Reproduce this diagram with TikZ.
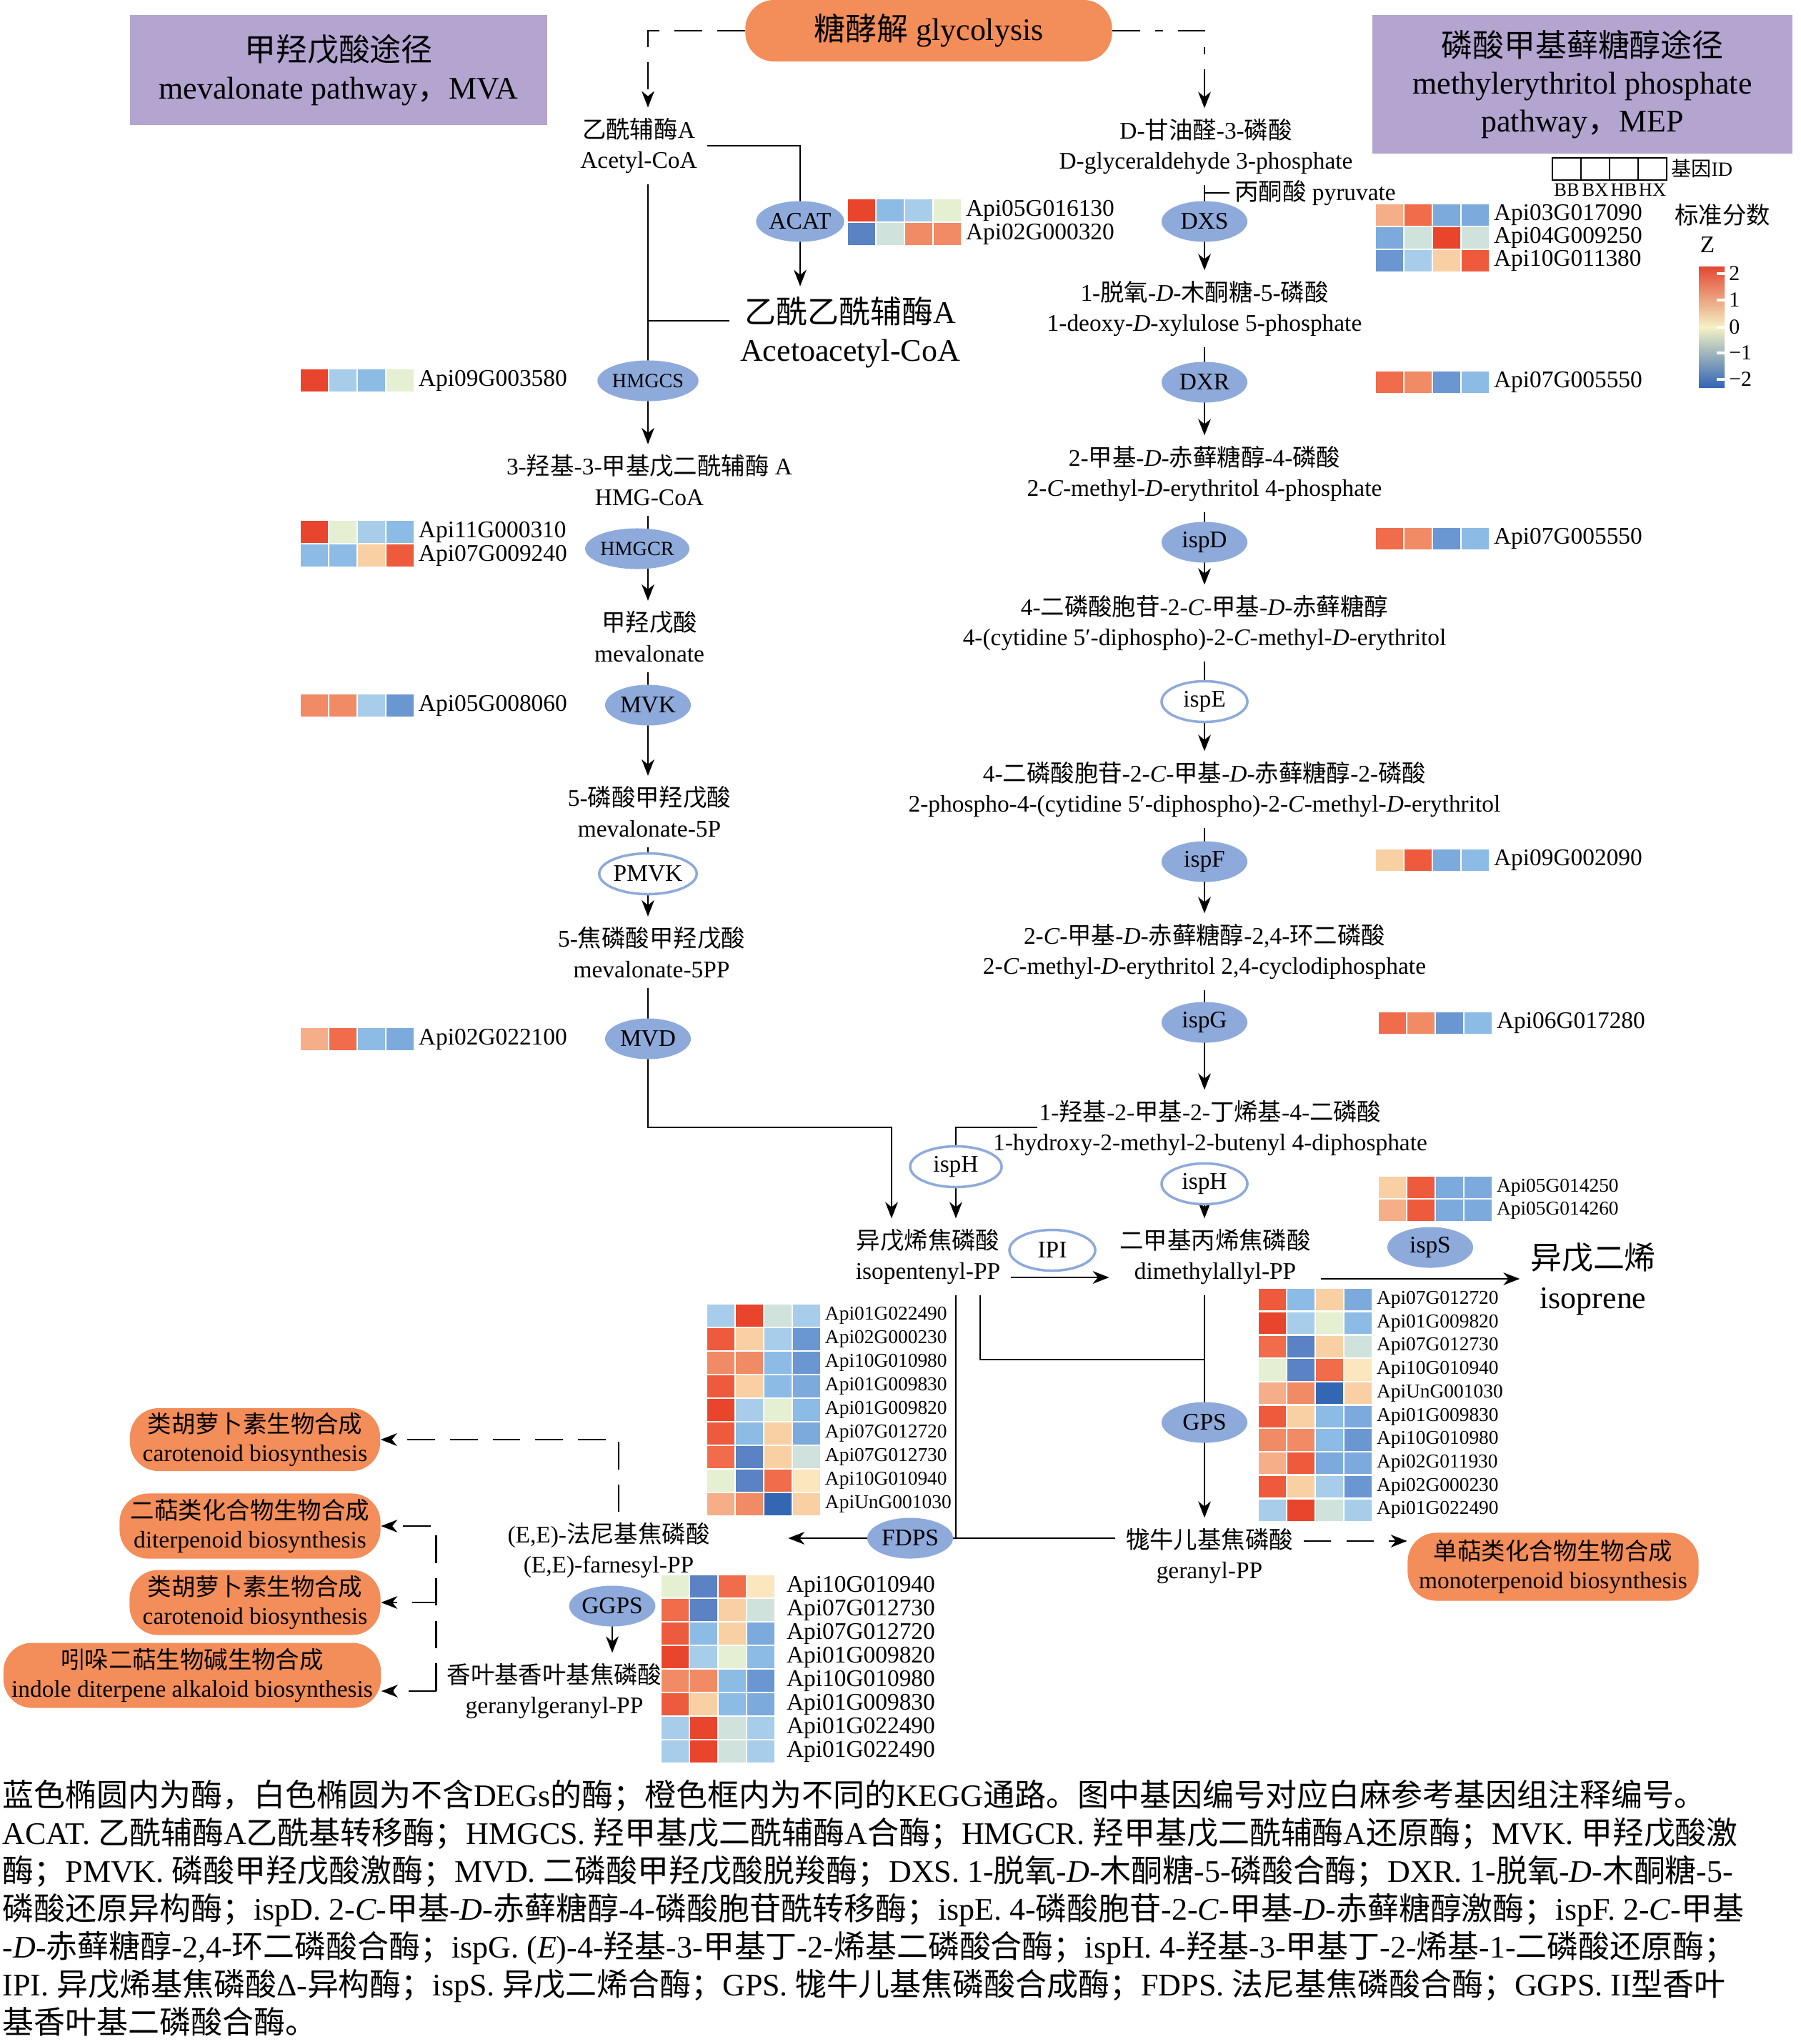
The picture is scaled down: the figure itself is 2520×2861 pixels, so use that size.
\documentclass[tikz,border=0pt]{standalone}
\usepackage{fontspec}
\setmainfont{Liberation Serif}
\newfontfamily\cjkf{Noto Sans CJK SC}
\newcommand\z[1]{{\cjkf #1}}
\usetikzlibrary{arrows.meta,shapes.geometric,calc}
\pgfdeclarelayer{bg}
\pgfsetlayers{bg,main}
\definecolor{enzblue}{HTML}{8EAADB}
\definecolor{kegg}{HTML}{F38D59}
\definecolor{pwpurple}{HTML}{B4A4D0}
\definecolor{hR}{HTML}{E8452C}
\definecolor{hR2}{HTML}{EE5B3C}
\definecolor{hR3}{HTML}{F06C4B}
\definecolor{hS}{HTML}{F18B66}
\definecolor{hS2}{HTML}{F5AE87}
\definecolor{hP}{HTML}{F9D0A3}
\definecolor{hY}{HTML}{FBE6BD}
\definecolor{hG}{HTML}{E5EFD2}
\definecolor{hGG}{HTML}{D0E2DC}
\definecolor{hLB}{HTML}{A8CDEA}
\definecolor{hB1}{HTML}{8CBBE6}
\definecolor{hB2}{HTML}{7DAADD}
\definecolor{hB25}{HTML}{6A97D2}
\definecolor{hB3}{HTML}{5A82C4}
\definecolor{hB4}{HTML}{3366B3}
\definecolor{zTop}{HTML}{E34A33}
\definecolor{zSal}{HTML}{F4A582}
\definecolor{zMid}{HTML}{F4F1C4}
\definecolor{zLB}{HTML}{92C5DE}
\definecolor{zBot}{HTML}{3366B3}
\tikzset{
 ln/.style={line width=0.8pt},
 arr/.style={line width=0.8pt,-{Stealth[length=6.5pt,width=5pt,inset=2pt]}},
 dl/.style={line width=0.8pt,dash pattern=on 11pt off 6pt},
 dlarr/.style={dl,-{Stealth[length=6.5pt,width=5pt,inset=2pt]}},
 ddarr/.style={line width=0.8pt,dash pattern=on 11pt off 6pt on 3pt off 6pt,-{Stealth[length=6.5pt,width=5pt,inset=2pt]}},
 met/.style={align=center,font=\fontsize{9.5}{12}\selectfont,inner sep=4pt},
 big/.style={align=center,font=\fontsize{12.5}{15}\selectfont,inner sep=4pt},
 enz/.style={ellipse,fill=enzblue,minimum width=1.2cm,minimum height=0.57cm,inner sep=0pt,font=\fontsize{9.5}{11}\selectfont},
 enzs/.style={enz,font=\fontsize{8}{9}\selectfont},
 enzw/.style={enz,fill=white,draw=enzblue,line width=1pt},
 keggbox/.style={fill=kegg,rounded corners=0.4cm,align=center,font=\fontsize{9.5}{11.5}\selectfont,inner sep=0pt},
 pwbox/.style={fill=pwpurple,align=center,font=\fontsize{12.5}{15}\selectfont,inner sep=0pt},
 cell/.style={draw=white,line width=0.7pt},
 gl/.style={anchor=west,font=\fontsize{9.5}{11}\selectfont,inner sep=1.5pt},
 glw/.style={gl,xshift=0.1cm},
 gls/.style={anchor=west,font=\fontsize{7.8}{9}\selectfont,inner sep=1.5pt},
}
\newcommand\hmap[6]{%
 \foreach \ca/\cb/\cc/\cd/\hlab [count=\hr from 0] in {#6} {%
   \filldraw[cell,fill=\ca] ({#2},{#3+\hr*#4}) rectangle ++(40,#4);
   \filldraw[cell,fill=\cb] ({#2+40},{#3+\hr*#4}) rectangle ++(40,#4);
   \filldraw[cell,fill=\cc] ({#2+80},{#3+\hr*#4}) rectangle ++(40,#4);
   \filldraw[cell,fill=\cd] ({#2+120},{#3+\hr*#4}) rectangle ++(40,#4);
   \node[#5] (#1-\hr) at ({#2+160},{#3+(\hr+0.5)*#4}) {\hlab};
 }}
\begin{document}
\begin{tikzpicture}[x=0.01cm,y=-0.01cm]
\useasboundingbox (0,0) rectangle (2520,2861);
\begin{pgfonlayer}{bg}
\fill[white] (0,0) rectangle (2520,2861);
\end{pgfonlayer}

% pathway boxes
\node[pwbox,minimum width=5.84cm,minimum height=1.53cm] (mva) at (474,98) {\z{甲羟戊酸途径}\\mevalonate pathway\z{，}MVA};
\node[pwbox,minimum width=5.88cm,minimum height=1.93cm] (mepbox) at (2215,118) {\z{磷酸甲基藓糖醇途径}\\methylerythritol phosphate\\pathway\z{，}MEP};
\node[keggbox,minimum width=5.13cm,minimum height=0.86cm,font=\fontsize{12.5}{15}\selectfont] (gly) at (1300,43) {\z{糖酵解} glycolysis};

% MVA metabolites
\node[met] (acoa) at (894,204) {\z{乙酰辅酶}A\\Acetyl-CoA};
\node[big] (aacoa) at (1190,465) {\z{乙酰乙酰辅酶}A\\Acetoacetyl-CoA};
\node[met] (hmgcoa) at (909,672) {3-\z{羟基}-3-\z{甲基戊二酰辅酶} A\\HMG-CoA};
\node[met] (mev) at (909,891) {\z{甲羟戊酸}\\mevalonate};
\node[met] (mev5p) at (909,1136) {5-\z{磷酸甲羟戊酸}\\mevalonate-5P};
\node[met] (mev5pp) at (912,1333) {5-\z{焦磷酸甲羟戊酸}\\mevalonate-5PP};
% MVA enzymes
\node[enz] (acat) at (1120,310) {ACAT};
\node[enzs] (hmgcs) at (907,533) {HMGCS};
\node[enzs] (hmgcr) at (892,768) {HMGCR};
\node[enz] (mvk) at (907,987) {MVK};
\node[enzw] (pmvk) at (907,1223) {PMVK};
\node[enz] (mvd) at (907,1454) {MVD};

% MEP metabolites
\node[met] (g3p) at (1688,205) {D-\z{甘油醛}-3-\z{磷酸}\\D-glyceraldehyde 3-phosphate};
\node[met,inner sep=2pt] (pyr) at (1841,270) {\z{丙酮酸} pyruvate};
\node[met] (dxp) at (1686,432) {1-\z{脱氧}-\textit{D}-\z{木酮糖}-5-\z{磷酸}\\1-deoxy-\textit{D}-xylulose 5-phosphate};
\node[met] (mep) at (1686,663) {2-\z{甲基}-\textit{D}-\z{赤藓糖醇}-4-\z{磷酸}\\2-\textit{C}-methyl-\textit{D}-erythritol 4-phosphate};
\node[met] (cdpme) at (1686,872) {4-\z{二磷酸胞苷}-2-\textit{C}-\z{甲基}-\textit{D}-\z{赤藓糖醇}\\4-(cytidine 5′-diphospho)-2-\textit{C}-methyl-\textit{D}-erythritol};
\node[met] (cdpmep) at (1686,1105) {4-\z{二磷酸胞苷}-2-\textit{C}-\z{甲基}-\textit{D}-\z{赤藓糖醇}-2-\z{磷酸}\\2-phospho-4-(cytidine 5′-diphospho)-2-\textit{C}-methyl-\textit{D}-erythritol};
\node[met] (mecpp) at (1686,1332) {2-\textit{C}-\z{甲基}-\textit{D}-\z{赤藓糖醇}-2,4-\z{环二磷酸}\\2-\textit{C}-methyl-\textit{D}-erythritol 2,4-cyclodiphosphate};
\node[met] (hmbpp) at (1694,1579) {1-\z{羟基}-2-\z{甲基}-2-\z{丁烯基}-4-\z{二磷酸}\\1-hydroxy-2-methyl-2-butenyl 4-diphosphate};
% MEP enzymes
\node[enz] (dxs) at (1686,310) {DXS};
\node[enz] (dxr) at (1686,535) {DXR};
\node[enz] (ispd) at (1686,759) {ispD};
\node[enzw] (ispe) at (1686,982) {ispE};
\node[enz] (ispf) at (1686,1206) {ispF};
\node[enz] (ispg) at (1686,1431) {ispG};
\node[enzw] (isph2) at (1686,1657) {ispH};
\node[enzw,minimum width=1.28cm] (isph1) at (1338,1633) {ispH};

% lower part
\node[met] (ipp) at (1299,1759) {\z{异戊烯焦磷酸}\\isopentenyl-PP};
\node[enzw] (ipi) at (1473,1750) {IPI};
\node[met] (dmapp) at (1701,1759) {\z{二甲基丙烯焦磷酸}\\dimethylallyl-PP};
\node[enz] (isps) at (2002,1746) {ispS};
\node[big,font=\fontsize{12.5}{15.6}\selectfont] (isoprene) at (2230,1790) {\z{异戊二烯}\\isoprene};
\node[enz] (gps) at (1686,1991) {GPS};
\node[met] (gpp) at (1693,2178) {\z{牻牛儿基焦磷酸}\\geranyl-PP};
\node[enz] (fdps) at (1274,2153) {FDPS};
\node[met] (fpp) at (852,2170) {(E,E)-\z{法尼基焦磷酸}\\(E,E)-farnesyl-PP};
\node[enz] (ggps) at (857,2248) {GGPS};
\node[met] (ggpp) at (776,2367) {\z{香叶基香叶基焦磷酸}\\geranylgeranyl-PP};

% KEGG boxes
\node[keggbox,minimum width=3.5cm,minimum height=0.88cm] (car1) at (357,2015) {\z{类胡萝卜素生物合成}\\carotenoid biosynthesis};
\node[keggbox,minimum width=3.65cm,minimum height=0.91cm] (dit) at (350,2136) {\z{二萜类化合物生物合成}\\diterpenoid biosynthesis};
\node[keggbox,minimum width=3.51cm,minimum height=0.91cm] (car2) at (357,2243) {\z{类胡萝卜素生物合成}\\carotenoid biosynthesis};
\node[keggbox,minimum width=5.28cm,minimum height=0.91cm] (ind) at (269,2345) {\z{吲哚二萜生物碱生物合成}\\indole diterpene alkaloid biosynthesis};
\node[keggbox,minimum width=4.07cm,minimum height=0.95cm] (mono) at (2174,2193) {\z{单萜类化合物生物合成}\\monoterpenoid biosynthesis};

% connectors
\begin{pgfonlayer}{bg}
\draw[dlarr] (gly.west) -| (acoa.north -| hmgcs);
\draw[ddarr] (gly.east) -| (g3p.north -| dxs);
\draw[arr] (acoa.east) -| (aacoa.north -| acat);
\draw[ln] ($(aacoa.west)+(0,-16)$) coordinate (aaj) -- (aaj -| hmgcs);
\draw[arr] (acoa.south -| hmgcs) -- (hmgcoa.north -| hmgcs);
\draw[arr] (hmgcoa.south -| hmgcs) -- (mev.north -| hmgcs);
\draw[arr] (mev.south -| mvk) -- (mev5p.north -| mvk);
\draw[arr] (mev5p.south -| pmvk) -- (mev5pp.north -| pmvk);
\coordinate (mvdturn) at (1248,1578);
\draw[arr] (mev5pp.south -| mvd) |- (mvdturn) -- (mvdturn |- ipp.north);
\draw[ln] (pyr.west -| dxs) -- (pyr.west);
\draw[arr] (g3p.south -| dxs) -- (dxp.north -| dxs);
\draw[arr] (dxp.south -| dxr) -- (mep.north -| dxr);
\draw[arr] (mep.south -| ispd) -- (cdpme.north -| ispd);
\draw[arr] (cdpme.south -| ispe) -- (cdpmep.north -| ispe);
\draw[arr] (cdpmep.south -| ispf) -- (mecpp.north -| ispf);
\draw[arr] (mecpp.south -| ispg) -- (hmbpp.north -| ispg);
\coordinate (hmbppL) at (1452,1578);
\draw[arr] (hmbppL) -| (ipp.north -| isph1);
\draw[arr] (hmbpp.south -| isph2) -- (dmapp.north -| isph2);
\draw[arr] ($(ipp.east)+(0,29)$) -- ($(dmapp.west)+(0,29)$);
\draw[arr] (dmapp.east |- isoprene.west) -- (isoprene.west);
\draw[arr] (dmapp.south -| gps) -- (gpp.north -| gps);
\coordinate (gpsjoin) at (1686,1903);
\draw[ln] ($(ipp.south)+(73,0)$) |- (gpsjoin);
\draw[ln] (isph1 |- ipp.south) -- (isph1 |- fdps);
\coordinate (fppin) at ($(fpp.east)+(95,0)$);
\draw[arr] (gpp.west |- fdps) -- (fppin |- fdps);
\draw[arr] (fpp.south -| ggps) -- (ggpp.north -| ggps);
\draw[dlarr] ($(fpp.north)+(14,0)$) |- (car1.east);
\draw[dlarr] (ggpp.west) -- (ggpp.west -| ind.east);
\draw[dlarr] (ggpp.west) |- (dit.east);
\draw[dlarr] (ggpp.west) |- (car2.east);
\draw[dlarr] ($(gpp.east)+(0,-21)$) coordinate (gpj) -- (gpj -| mono.west);
\end{pgfonlayer}

% heatmaps
\hmap{acath}{1186}{278}{33}{gl}{hR/hB1/hLB/hG/Api05G016130,hB3/hGG/hS/hS/Api02G000320}
\hmap{hmgcsh}{420}{516}{33}{gl}{hR/hLB/hB1/hG/Api09G003580}
\hmap{hmgcrh}{420}{728}{33}{gl}{hR/hG/hLB/hB1/Api11G000310,hB1/hB1/hP/hR2/Api07G009240}
\hmap{mvkh}{420}{971}{33}{gl}{hS/hS/hLB/hB25/Api05G008060}
\hmap{mvdh}{420}{1438}{33}{gl}{hS2/hR3/hB1/hB2/Api02G022100}
\hmap{dxsh}{1925}{285}{32}{gl}{hS2/hR3/hB2/hB2/Api03G017090,hB2/hGG/hR/hGG/Api04G009250,hB25/hLB/hP/hR2/Api10G011380}
\hmap{dxrh}{1925}{519}{32}{gl}{hR3/hS/hB25/hB1/Api07G005550}
\hmap{ispdh}{1925}{738}{32}{gl}{hR3/hS/hB25/hB1/Api07G005550}
\hmap{ispfh}{1925}{1188}{32}{gl}{hP/hR2/hB2/hB1/Api09G002090}
\hmap{ispgh}{1929}{1416}{32}{gl}{hR3/hS/hB25/hB1/Api06G017280}
\hmap{ispsh}{1929}{1646}{32}{gls}{hP/hR2/hB2/hB2/Api05G014250,hS2/hR2/hB2/hB2/Api05G014260}
\hmap{gpsh}{1761}{1803}{32.7}{gls}{%
hR2/hB1/hP/hB2/Api07G012720,%
hR/hLB/hG/hB1/Api01G009820,%
hR3/hB3/hP/hGG/Api07G012730,%
hG/hB3/hR3/hY/Api10G010940,%
hS2/hS/hB4/hP/ApiUnG001030,%
hR2/hP/hB1/hB2/Api01G009830,%
hS/hS/hB1/hB25/Api10G010980,%
hS2/hR2/hB2/hB2/Api02G011930,%
hR2/hP/hLB/hB25/Api02G000230,%
hLB/hR/hGG/hLB/Api01G022490}
\hmap{fdpsh}{989}{1825}{33}{gls}{%
hLB/hR/hGG/hLB/Api01G022490,%
hR2/hP/hLB/hB25/Api02G000230,%
hS/hS/hB1/hB25/Api10G010980,%
hR2/hP/hB1/hB2/Api01G009830,%
hR/hLB/hG/hB1/Api01G009820,%
hR2/hB1/hP/hB2/Api07G012720,%
hR3/hB3/hP/hGG/Api07G012730,%
hG/hB3/hR3/hY/Api10G010940,%
hS2/hS/hB4/hP/ApiUnG001030}
\hmap{ggpsh}{925}{2204}{33}{glw}{%
hG/hB3/hR3/hY/Api10G010940,%
hR3/hB3/hP/hGG/Api07G012730,%
hR2/hB1/hP/hB2/Api07G012720,%
hR/hLB/hG/hB1/Api01G009820,%
hS/hS/hB1/hB25/Api10G010980,%
hR2/hP/hB1/hB2/Api01G009830,%
hLB/hR/hGG/hLB/Api01G022490,%
hLB/hR/hGG/hLB/Api01G022490}

% legend
\foreach \li/\lt in {0/BB,1/BX,2/HB,3/HX} {
  \draw[line width=0.5pt] ({2173+\li*40},221) rectangle ++(40,31);
  \node[font=\fontsize{7.5}{9}\selectfont,inner sep=0pt] (lg\lt) at ({2193+\li*40},266) {\lt};
}
\node[anchor=west,font=\fontsize{8}{9}\selectfont,inner sep=1pt] (lgid) at (2335,236) {\z{基因}ID};
\node[font=\fontsize{9.5}{11}\selectfont] (zlab) at (2411,301) {\z{标准分数}};
\node[font=\fontsize{9.5}{11}\selectfont] (zz) at (2390,343) {Z};
\shade[top color=zTop,middle color=zSal,bottom color=zMid] (2378,374) rectangle (2414,458);
\shade[top color=zMid,middle color=zLB,bottom color=zBot] (2378,458) rectangle (2414,542);
\foreach \zv/\zy in {2/383,1/420,0/458,−1/494,−2/531} {
  \draw[white,line width=1pt] (2403,\zy) -- (2414,\zy);
  \node[anchor=west,font=\fontsize{8.5}{10}\selectfont,inner sep=1pt] (zt\zy) at (2416,\zy) {\zv};
}

% caption
\node[anchor=north west,align=left,inner sep=0pt,font=\fontsize{12.5}{15.1}\selectfont] (cap) at (3,2490) {%
\z{蓝色椭圆内为酶，白色椭圆为不含}DEGs\z{的酶；橙色框内为不同的}KEGG\z{通路。图中基因编号对应白麻参考基因组注释编号。}\\
ACAT. \z{乙酰辅酶}A\z{乙酰基转移酶；}HMGCS. \z{羟甲基戊二酰辅酶}A\z{合酶；}HMGCR. \z{羟甲基戊二酰辅酶}A\z{还原酶；}MVK. \z{甲羟戊酸激}\\
\z{酶；}PMVK. \z{磷酸甲羟戊酸激酶；}MVD. \z{二磷酸甲羟戊酸脱羧酶；}DXS. 1-\z{脱氧}-\textit{D}-\z{木酮糖}-5-\z{磷酸合酶；}DXR. 1-\z{脱氧}-\textit{D}-\z{木酮糖}-5-\\
\z{磷酸还原异构酶；}ispD. 2-\textit{C}-\z{甲基}-\textit{D}-\z{赤藓糖醇}-4-\z{磷酸胞苷酰转移酶；}ispE. 4-\z{磷酸胞苷}-2-\textit{C}-\z{甲基}-\textit{D}-\z{赤藓糖醇激酶；}ispF. 2-\textit{C}-\z{甲基}\\
-\textit{D}-\z{赤藓糖醇}-2,4-\z{环二磷酸合酶；}ispG. (\textit{E})-4-\z{羟基}-3-\z{甲基丁}-2-\z{烯基二磷酸合酶；}ispH. 4-\z{羟基}-3-\z{甲基丁}-2-\z{烯基}-1-\z{二磷酸还原酶；}\\
IPI. \z{异戊烯基焦磷酸}Δ-\z{异构酶；}ispS. \z{异戊二烯合酶；}GPS. \z{牻牛儿基焦磷酸合成酶；}FDPS. \z{法尼基焦磷酸合酶；}GGPS. II\z{型香叶}\\
\z{基香叶基二磷酸合酶。}};
\end{tikzpicture}
\end{document}
